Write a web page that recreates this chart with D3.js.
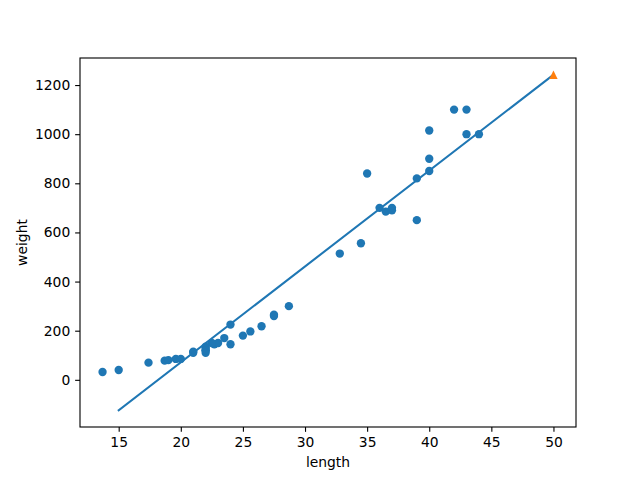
<!DOCTYPE html>
<html><head><meta charset="utf-8">
<script src="https://cdn.jsdelivr.net/npm/d3@7"></script>
<style>body{margin:0;background:#fff}svg{display:block}text{font-family:"DejaVu Sans";}</style>
</head><body>
<svg id="c" width="640" height="480"></svg>
<script>
const lengths = [19.6, 22.0, 18.7, 17.4, 36.0, 25.0, 40.0, 39.0, 43.0, 22.0, 20.0, 22.0, 24.0, 27.5, 43.0, 40.0, 24.0, 21.0, 27.5, 40.0, 32.8, 26.5, 36.5, 13.7, 22.7, 15.0, 37.0, 35.0, 28.7, 23.5, 39.0, 21.0, 23.0, 22.0, 44.0, 22.5, 19.0, 37.0, 22.0, 25.6, 42.0, 34.5];
const weights = [85, 135, 78, 70, 700, 180, 850, 820, 1000, 120, 85, 130, 225, 260, 1100, 900, 145, 115, 265, 1015, 514, 218, 685, 32, 145, 40, 690, 840, 300, 170, 650, 110, 150, 110, 1000, 150, 80, 700, 120, 197, 1100, 556];
const lineX = [15, 50];
const lineY = [-123.76, 1241.84];
const predX = [50];
const predY = [1241.8];
const xTicks = [15, 20, 25, 30, 35, 40, 45, 50];
const yTicks = [0, 200, 400, 600, 800, 1000, 1200];

const L = 80, R = 576, T = 58, B = 427;
const svg = d3.select("#c");
const x = d3.scaleLinear().domain([11.885, 51.815]).range([L, R]);
const y = d3.scaleLinear().domain([-192.04, 1310.12]).range([B, T]);

const gp = svg.append("g");
gp.selectAll("circle").data(lengths).enter().append("circle")
  .attr("cx", (d) => x(d)).attr("cy", (d, i) => y(weights[i]))
  .attr("r", 4.17).attr("fill", "#1f77b4");

svg.append("path").datum(lineX.map((d, i) => [d, lineY[i]]))
  .attr("d", d3.line().x(d => x(d[0])).y(d => y(d[1])))
  .attr("stroke", "#1f77b4").attr("stroke-width", 2.08).attr("fill", "none")
  .attr("stroke-linecap", "square");

const h = 4.17;
svg.selectAll("path.tri").data(predX).enter().append("path").attr("class", "tri")
  .attr("d", (d, i) => {
    const cx = x(d), cy = y(predY[i]);
    return `M${cx},${cy - h}L${cx - h},${cy + h}L${cx + h},${cy + h}Z`;
  })
  .attr("fill", "#ff7f0e");

const xa = svg.append("g").attr("transform", `translate(0,${B})`)
  .call(d3.axisBottom(x).tickValues(xTicks).tickSize(4.86).tickPadding(4.86).tickFormat(d3.format("d")));
const ya = svg.append("g").attr("transform", `translate(${L},0)`)
  .call(d3.axisLeft(y).tickValues(yTicks).tickSize(4.86).tickPadding(4.86).tickFormat(d3.format("d")));
[xa, ya].forEach(a => {
  a.select(".domain").remove();
  a.selectAll("line").attr("stroke", "#000").attr("stroke-width", 1.11);
  a.selectAll("text").attr("font-family", "DejaVu Sans").attr("font-size", "13.89px").attr("fill", "#000");
});

svg.append("rect").attr("x", L).attr("y", T).attr("width", R - L).attr("height", B - T)
  .attr("fill", "none").attr("stroke", "#000").attr("stroke-width", 1.11);

svg.append("text").attr("x", (L + R) / 2).attr("y", 467).attr("text-anchor", "middle")
  .attr("font-size", "13.89px").text("length");
svg.append("text").attr("transform", `translate(27,${(T + B) / 2}) rotate(-90)`).attr("text-anchor", "middle")
  .attr("font-size", "13.89px").text("weight");
</script>
</body></html>
